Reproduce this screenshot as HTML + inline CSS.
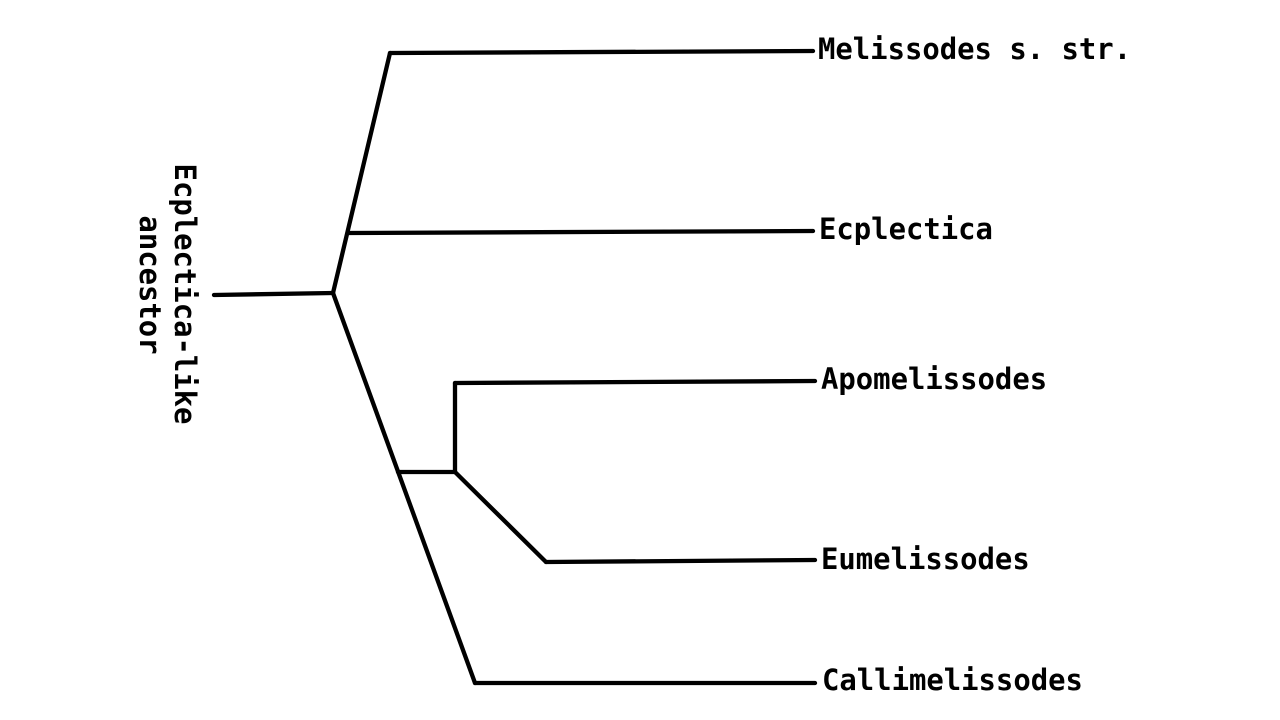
<!DOCTYPE html>
<html><head><meta charset="utf-8"><style>html,body{margin:0;padding:0;background:#fff}svg{display:block}</style></head>
<body>
<svg width="1280" height="720" viewBox="0 0 1280 720" xmlns="http://www.w3.org/2000/svg">
<g stroke="#000" stroke-width="4.3" fill="none" stroke-linecap="round" stroke-linejoin="round">
<line x1="214" y1="295" x2="333" y2="293"/>
<line x1="333" y1="293" x2="390" y2="53"/>
<line x1="390" y1="53" x2="813" y2="51"/>
<line x1="348" y1="233" x2="813" y2="231"/>
<line x1="333" y1="293" x2="475" y2="683"/>
<line x1="398" y1="472" x2="455" y2="472"/>
<line x1="455" y1="472" x2="455" y2="383"/>
<line x1="455" y1="383" x2="815" y2="381"/>
<line x1="455" y1="472" x2="546" y2="562"/>
<line x1="546" y1="562" x2="815" y2="560"/>
<line x1="475" y1="683" x2="815" y2="683"/>
</g>
<g font-family="'DejaVu Sans Mono','Liberation Mono',monospace" font-weight="bold" font-size="28.9" fill="#000" dominant-baseline="central">
<text x="818" y="49">Melissodes s. str.</text>
<text x="819" y="229">Ecplectica</text>
<text x="821" y="379">Apomelissodes</text>
<text x="821" y="559">Eumelissodes</text>
<text x="822" y="680">Callimelissodes</text>
<text transform="translate(185,294) rotate(90)" text-anchor="middle">Ecplectica-like</text>
<text transform="translate(150,285) rotate(90)" text-anchor="middle">ancestor</text>
</g>
</svg>
</body></html>
